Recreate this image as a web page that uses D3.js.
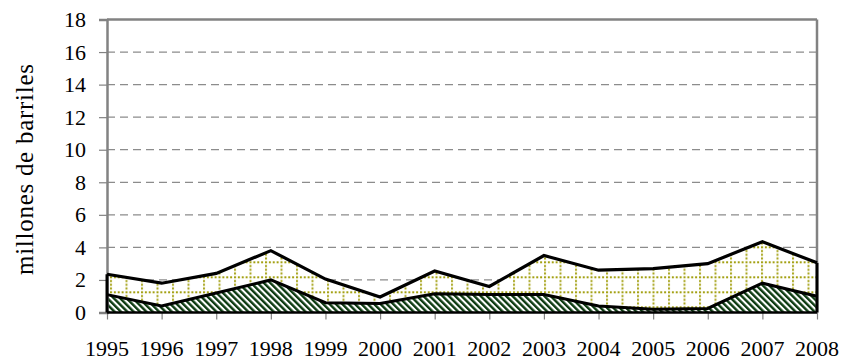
<!DOCTYPE html>
<html>
<head>
<meta charset="utf-8">
<script src="https://cdn.jsdelivr.net/npm/d3@7"></script>
<style>
  html, body { margin: 0; padding: 0; background: #fff; }
  svg { display: block; }
</style>
</head>
<body>
<svg id="chart" width="846" height="362"></svg>
<script>
// Years on the horizontal axis
const years = [1995, 1996, 1997, 1998, 1999, 2000, 2001, 2002, 2003, 2004, 2005, 2006, 2007, 2008];
// Lower layer (millions of barrels)
const lowerSeries = [1.1, 0.4, 1.2, 2.0, 0.6, 0.55, 1.15, 1.1, 1.1, 0.4, 0.2, 0.25, 1.8, 1.0];
// Upper layer, stacked on top of the lower one
const upperSeries = [1.25, 1.4, 1.2, 1.8, 1.45, 0.4, 1.4, 0.5, 2.4, 2.2, 2.5, 2.75, 2.55, 2.05];
// Value axis ticks
const yTicks = [0, 2, 4, 6, 8, 10, 12, 14, 16, 18];
const yLabel = "millones de barriles";

const FONT = "Liberation Serif";

const svg = d3.select("#chart");
const W = 846, H = 362;
const margin = { top: 19.5, right: 29, bottom: 49.5, left: 107 };
const iw = W - margin.left - margin.right;
const ih = H - margin.top - margin.bottom;

const x = d3.scalePoint().domain(years).range([0, iw]);
const y = d3.scaleLinear().domain([0, 18]).range([ih, 0]);

// Fill patterns
const defs = svg.append("defs");
const hs = 4.5;
const hatch = defs.append("pattern")
  .attr("id", "hatch").attr("patternUnits", "userSpaceOnUse")
  .attr("width", hs).attr("height", hs)
  .attr("patternTransform", "rotate(-45)");
hatch.append("rect").attr("width", hs).attr("height", hs).attr("fill", "#fff");
hatch.append("rect").attr("width", 2.4).attr("height", hs).attr("fill", "#0c3a10");

const cw = 15.5, ch = 15;
const grid = defs.append("pattern")
  .attr("id", "dotgrid").attr("patternUnits", "userSpaceOnUse")
  .attr("width", cw).attr("height", ch)
  .attr("x", 3).attr("y", 1.8);
grid.append("rect").attr("width", cw).attr("height", ch).attr("fill", "#fff");
grid.append("line").attr("x1", 0).attr("x2", cw).attr("y1", 1).attr("y2", 1)
  .attr("stroke", "#a3a012").attr("stroke-width", 2).attr("stroke-dasharray", "2,1.875");
grid.append("line").attr("x1", 1).attr("x2", 1).attr("y1", 0).attr("y2", ch)
  .attr("stroke", "#a3a012").attr("stroke-width", 2).attr("stroke-dasharray", "2,1.75");

const g = svg.append("g").attr("transform", `translate(${margin.left},${margin.top})`);

// Dashed horizontal gridlines
g.append("g").selectAll("line")
  .data(yTicks.filter(v => v > 0 && v < 18))
  .join("line")
  .attr("x1", 0).attr("x2", iw)
  .attr("y1", d => y(d)).attr("y2", d => y(d))
  .attr("stroke", "#8c8c8c").attr("stroke-width", 1.2)
  .attr("stroke-dasharray", "8,5");

// Stack the two layers
const table = years.map((yr, i) => ({ year: yr, lower: lowerSeries[i], upper: upperSeries[i] }));
const stacked = d3.stack().keys(["lower", "upper"])(table);

const area = d3.area()
  .x(d => x(d.data.year))
  .y0(d => y(d[0]))
  .y1(d => y(d[1]));

const line = d3.line()
  .x(d => x(d.data.year))
  .y(d => y(d[1]));

g.append("path").datum(stacked[1]).attr("d", area).attr("fill", "url(#dotgrid)");
g.append("path").datum(stacked[0]).attr("d", area).attr("fill", "url(#hatch)");

// Plot frame: top and right edges
g.append("line").attr("x1", 0).attr("x2", iw).attr("y1", 0).attr("y2", 0)
  .attr("stroke", "#828282").attr("stroke-width", 2.5);
g.append("line").attr("x1", iw).attr("x2", iw).attr("y1", 0).attr("y2", ih)
  .attr("stroke", "#828282").attr("stroke-width", 2.5);

// Value axis: line and tick marks from d3.axisLeft, labels as serif text
const yAxis = g.append("g")
  .call(d3.axisLeft(y).tickValues(yTicks).tickSize(8).tickFormat(""));
yAxis.attr("font-family", null).attr("font-size", null);
yAxis.select(".domain").attr("stroke", "#828282").attr("stroke-width", 2.5);
yAxis.selectAll(".tick line").attr("stroke", "#828282").attr("stroke-width", 1.2);
yAxis.selectAll(".tick text").remove();
g.append("g").selectAll("text")
  .data(yTicks)
  .join("text")
  .attr("x", -21)
  .attr("y", d => y(d))
  .attr("dy", "0.34em")
  .attr("text-anchor", "end")
  .attr("font-family", FONT)
  .attr("font-size", 22)
  .attr("fill", "#000")
  .text(d => d3.format("d")(d));

// Year axis: tick marks from d3.axisBottom, labels as serif text
const xAxis = g.append("g").attr("transform", `translate(0,${ih})`)
  .call(d3.axisBottom(x).tickSize(7).tickSizeOuter(0).tickFormat(""));
xAxis.attr("font-family", null).attr("font-size", null);
xAxis.select(".domain").remove();
xAxis.selectAll(".tick line").attr("stroke", "#828282").attr("stroke-width", 1.2);
xAxis.selectAll(".tick text").remove();
g.append("g").selectAll("text")
  .data(years)
  .join("text")
  .attr("x", d => x(d))
  .attr("y", ih + 43)
  .attr("text-anchor", "middle")
  .attr("font-family", FONT)
  .attr("font-size", 22)
  .attr("fill", "#000")
  .text(d => d);

// Outline of the filled region and the two boundary lines
g.append("path").datum(stacked[0]).attr("d", line)
  .attr("fill", "none").attr("stroke", "#000").attr("stroke-width", 3).attr("stroke-linejoin", "miter");
g.append("path").datum(stacked[1]).attr("d", line)
  .attr("fill", "none").attr("stroke", "#000").attr("stroke-width", 3.2).attr("stroke-linejoin", "miter");
const last = stacked[1][stacked[1].length - 1];
const first = stacked[1][0];
g.append("line")
  .attr("x1", iw).attr("x2", iw).attr("y1", y(0)).attr("y2", y(last[1]))
  .attr("stroke", "#000").attr("stroke-width", 3);
g.append("line")
  .attr("x1", 0).attr("x2", 0).attr("y1", y(0)).attr("y2", y(first[1]))
  .attr("stroke", "#000").attr("stroke-width", 3);
g.append("line")
  .attr("x1", 0).attr("x2", iw).attr("y1", y(0)).attr("y2", y(0))
  .attr("stroke", "#000").attr("stroke-width", 2.5);

// Axis title
svg.append("text")
  .attr("transform", `translate(33,169.5) rotate(-90)`)
  .attr("text-anchor", "middle")
  .attr("font-family", FONT)
  .attr("font-size", 25)
  .attr("textLength", 211)
  .attr("lengthAdjust", "spacing")
  .attr("fill", "#000")
  .text(yLabel);
</script>
</body>
</html>
